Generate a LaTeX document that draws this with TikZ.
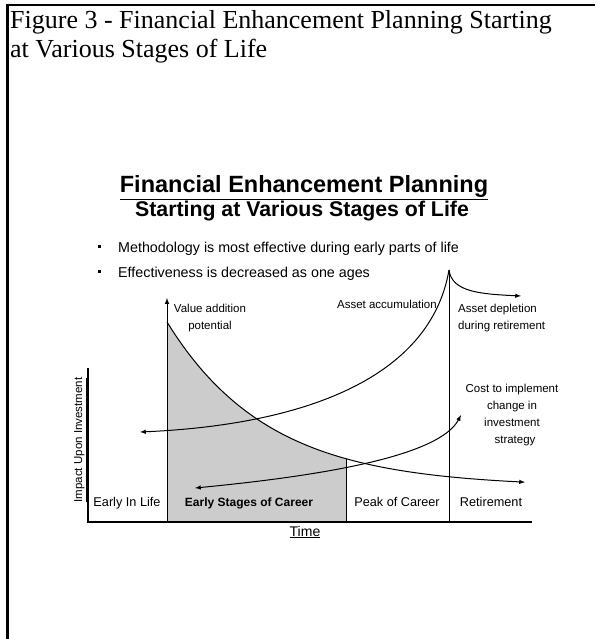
\documentclass[tikz,border=0pt]{standalone}
\usepackage{fontspec}
\setmainfont{Liberation Serif}
\setsansfont{Liberation Sans}
\usetikzlibrary{arrows,calc}

\tikzset{
  heading/.style={font=\sffamily\bfseries\fontsize{23.5}{26}\selectfont, anchor=base},
  bullet/.style={font=\sffamily\fontsize{14.3}{16}\selectfont, anchor=base west, inner sep=0pt},
  note/.style={font=\sffamily\fontsize{11.5}{17}\selectfont, inner sep=0pt},
  stagebox/.style={font=\sffamily\fontsize{12.7}{14}\selectfont, anchor=base, inner sep=0pt},
  curve/.style={line width=1pt, black},
  axis/.style={line width=1.3pt, black},
}

\begin{document}
\begin{tikzpicture}[x=1pt,y=-1pt,>=latex]
\useasboundingbox (0,0) rectangle (595,639);
% page frame (left and top rules only)
\draw[line width=3pt] (7,4) -- (7,639);
\draw[line width=2pt] (6,5) -- (595,5);

% caption
\node[anchor=base west, inner sep=0pt] (cap1) at (10,28.5)
  {\fontsize{26}{30}\selectfont Figure 3 - Financial Enhancement Planning Starting};
\node[anchor=base west, inner sep=0pt] (cap2) at (10,58)
  {\fontsize{26}{30}\selectfont at Various Stages of Life};

% slide title
\node[heading] (title) at (304,193) {\underline{Financial Enhancement Planning}};
\node[heading, font=\sffamily\bfseries\fontsize{21.3}{24}\selectfont] (subtitle) at (302,216)
  {Starting at Various Stages of Life};

\node[bullet] (b1) at (118,252) {Methodology is most effective during early parts of life};
\node[bullet] (b2) at (118,277) {Effectiveness is decreased as one ages};
\foreach \b in {b1,b2}
  \fill ($(\b.base west)+(-20,-4.5)$) rectangle +(3,-3);

% key points of the chart
\coordinate (origin) at (88,522);
\coordinate (xend) at (532,522);
\coordinate (ytop) at (88,368);
\coordinate (vbase) at (167,522);
\coordinate (vtop) at (167,298);
\coordinate (peak) at (449,270);
\coordinate (rbase) at (449,522);
\coordinate (pbase) at (346,522);
\coordinate (accend) at (140,432);
\coordinate (depend) at (521,296);
\coordinate (costa) at (195,488);
\coordinate (costb) at (461,415);

% shaded area under the decay curve
\fill[black!20] (167,522) -- plot[domain=167:346, samples=40]
  (\x,{487-165*exp(-(\x-167)/101.5)}) -- (pbase) -- cycle;

% axes and stage dividers
\draw[axis] (ytop) -- (origin) -- (xend);
\draw[curve, -latex] (vbase) -- (vtop);
\draw[curve] (pbase) -- (346,{487-165*exp(-(346-167)/101.5)});
\draw[curve] (rbase) -- (peak);

% value addition potential (decays with age)
\draw[curve, -latex] plot[domain=167:525, samples=70]
  (\x,{487-165*exp(-(\x-167)/101.5)});

% asset accumulation and depletion
\draw[curve, latex-] (accend) .. controls (300,425) and (430,380) .. (peak);
\draw[curve, -latex] (peak) .. controls (452,292) and (480,294) .. (depend);

% cost to implement change
\draw[curve, latex-latex] (costa) .. controls (330,475) and (440,455) .. (costb);

% labels (base = last line)
\node[note, align=center, anchor=base] (lval) at (210,329) {Value addition\\potential};
\node[note, anchor=base east] (lacc) at (437,308) {Asset accumulation};
\node[note, align=left, anchor=base west] (ldep) at (458,329) {Asset depletion\\during retirement};
\node[note, align=center, anchor=base] (lcost) at (512,443)
  {Cost to implement\\change in\\investment\\\hspace{6pt}strategy};

\node[note, rotate=90, anchor=base, font=\sffamily\fontsize{11.5}{14}\selectfont] (lyax) at (82,440)
  {\underline{Impact Upon Investment}};

\node[stagebox] (s1) at (127,506) {Early In Life};
\node[stagebox, font=\sffamily\bfseries\fontsize{12}{14}\selectfont] (s2) at (249,506) {Early Stages of Career};
\node[stagebox] (s3) at (397,506) {Peak of Career};
\node[stagebox] (s4) at (491,506) {Retirement};

\node[stagebox, font=\sffamily\fontsize{14}{16}\selectfont] (time) at (305,536) {\underline{Time}};
\end{tikzpicture}
\end{document}
